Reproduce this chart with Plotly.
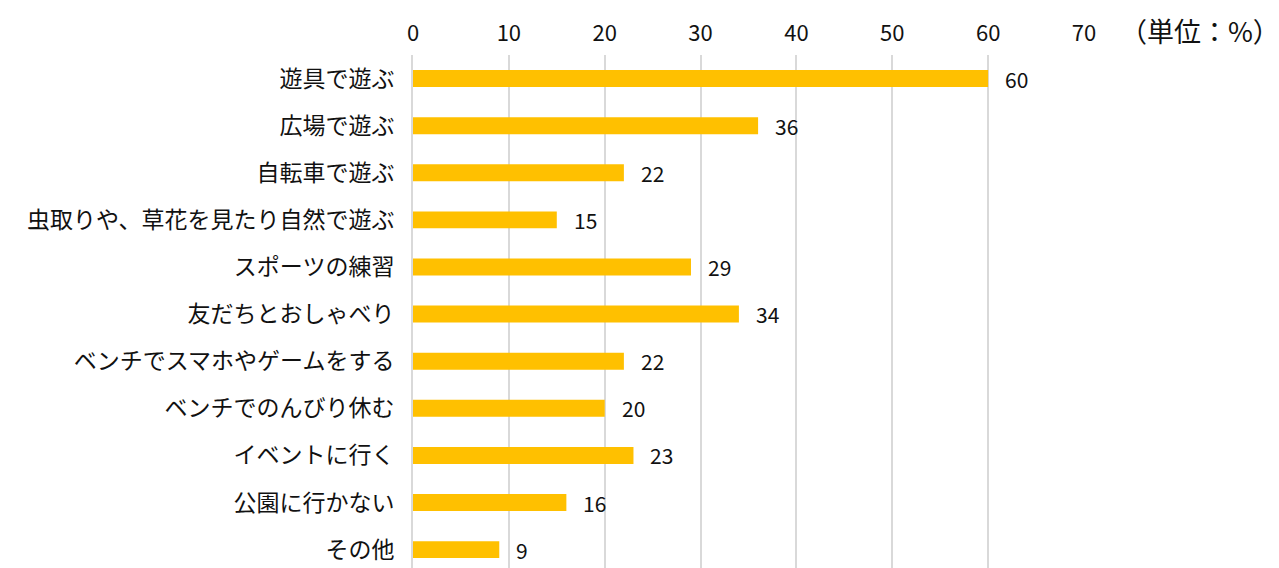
import plotly.graph_objects as go

# 公園での過ごし方（単位：%）
categories = [
    "遊具で遊ぶ",
    "広場で遊ぶ",
    "自転車で遊ぶ",
    "虫取りや、草花を見たり自然で遊ぶ",
    "スポーツの練習",
    "友だちとおしゃべり",
    "ベンチでスマホやゲームをする",
    "ベンチでのんびり休む",
    "イベントに行く",
    "公園に行かない",
    "その他",
]
values = [60, 36, 22, 15, 29, 34, 22, 20, 23, 16, 9]
x_ticks = [0, 10, 20, 30, 40, 50, 60, 70]

FONT = "Noto Sans CJK JP"
TEXT_COLOR = "#111111"
positions = list(range(len(categories)))

fig = go.Figure(
    go.Bar(
        x=values,
        y=positions,
        orientation="h",
        marker=dict(color="#FFC000", line=dict(width=0)),
        width=0.36,
        hoverinfo="x+y",
    )
)

# value labels to the right of each bar
for pos, v in zip(positions, values):
    fig.add_annotation(
        x=v, y=pos, text=str(v), showarrow=False,
        xanchor="left", yanchor="middle", xshift=15,
        font=dict(family=FONT, size=21, color=TEXT_COLOR),
    )

# unit label
fig.add_annotation(
    x=1.0, xref="paper", xanchor="left", xshift=34,
    y=1.0, yref="paper", yanchor="middle", yshift=25,
    text="（単位：%）", showarrow=False,
    font=dict(family=FONT, size=27, color=TEXT_COLOR),
)

fig.update_layout(
    width=1279,
    height=568,
    margin=dict(l=413, r=195, t=55, b=0),
    plot_bgcolor="white",
    paper_bgcolor="white",
    showlegend=False,
    font=dict(family=FONT, size=20, color=TEXT_COLOR),
)
fig.update_xaxes(
    side="top",
    range=[0, 70],
    tickvals=x_ticks,
    ticktext=[str(t) for t in x_ticks],
    showgrid=True,
    gridcolor="#D9D9D9",
    gridwidth=2,
    zeroline=False,
    showline=False,
    ticks="",
    ticklabelstandoff=9,
    tickfont=dict(family=FONT, size=22, color=TEXT_COLOR),
)
fig.update_yaxes(
    range=[10.39, -0.5],
    tickvals=positions,
    ticktext=categories,
    showgrid=False,
    zeroline=False,
    showline=True,
    linecolor="#D9D9D9",
    linewidth=2,
    ticks="",
    ticklabelstandoff=12,
    tickfont=dict(family=FONT, size=23, color=TEXT_COLOR),
)

fig.write_html("out.html")
